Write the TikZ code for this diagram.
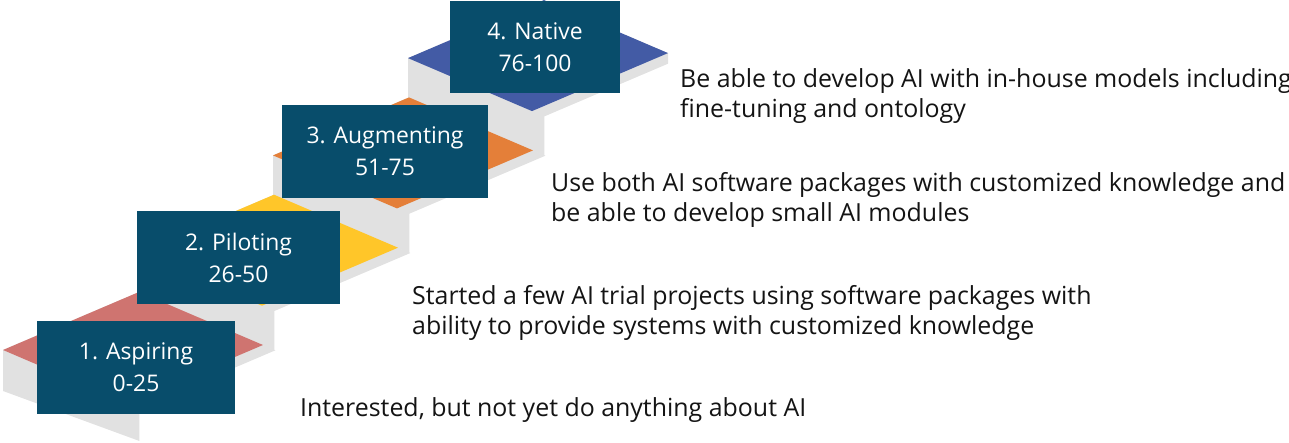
\documentclass[tikz,border=0pt]{standalone}
\usepackage{fontspec}
\setmainfont{Open Sans}
\definecolor{stairgray}{HTML}{E1E1E1}
\definecolor{tread1}{HTML}{CF7470}
\definecolor{tread2}{HTML}{FFC629}
\definecolor{tread3}{HTML}{E47F39}
\definecolor{tread4}{HTML}{435BA5}
\definecolor{cardblue}{HTML}{084D6B}
\definecolor{bodytext}{HTML}{141414}
\begin{document}
\begin{tikzpicture}[x=1bp,y=-1bp,
  stepcard/.style={fill=cardblue, text=white, inner sep=0pt, align=center,
    font=\fontsize{23}{32}\selectfont},
  blurb/.style={anchor=north west, inner sep=0pt, align=left, text=bodytext,
    font=\fontsize{25}{30}\selectfont},
  stairside/.style={fill=stairgray},
]
\useasboundingbox (0,0) rectangle (1289,443);

% top step: riser, side strip and tread
\fill[stairside] (408,58.1) -- ++(0,39.3) -- ++(136.4,58.3) -- ++(0,-39.3)
  -- ++(123.6,-52.7) -- ++(0,-10.6) -- ++(-124,-53) -- cycle;
\fill[tread4] (408,58.1) -- ++(124,53) -- ++(136,-58) -- ++(-124,-53) -- cycle;

% middle steps: the side strip runs on until it meets the riser above
\foreach \lx/\ly/\col in {273/155.4/tread3, 138/252.7/tread2}{
  \fill[stairside] (\lx,\ly) -- ++(0,39.3) -- ++(136.4,58.3) -- ++(0,-39.3)
    -- ++(136,-58) -- ++(-12.4,-5.3) -- ++(-124,-53) -- cycle;
  \fill[\col] (\lx,\ly) -- ++(124,53) -- ++(136,-58) -- ++(-124,-53) -- cycle;
}

% bottom step
\fill[stairside] (3,350) -- (3,391) -- (139.4,441) -- (139.4,408.3)
  -- ++(136,-58) -- ++(-12.4,-5.3) -- ++(-124,-53) -- cycle;
\fill[tread1] (3,350) -- ++(124,53) -- ++(136,-58) -- ++(-124,-53) -- cycle;

% level cards
\node[stepcard, minimum width=198bp, minimum height=93bp] (level1) at (136,367.5) {1. Aspiring\\0-25};
\node[stepcard, minimum width=203bp, minimum height=93bp] (level2) at (238.5,257.5) {2. Piloting\\26-50};
\node[stepcard, minimum width=206bp, minimum height=93bp] (level3) at (385,151.5) {3. Augmenting\\51-75};
\node[stepcard, minimum width=170bp, minimum height=92bp] (level4) at (535,47) {4. Native\\76-100};

% descriptions
\node[blurb] (desc4) at (680,68) {Be able to develop AI with in-house models including\\fine-tuning and ontology};
\node[blurb] (desc3) at (551,172.7) {Use both AI software packages with customized knowledge and\\be able to develop small AI modules};
\node[blurb] (desc2) at (412,285) {Started a few AI trial projects using software packages with\\ability to provide systems with customized knowledge};
\node[blurb] (desc1) at (300,397.7) {Interested, but not yet do anything about AI};
\end{tikzpicture}
\end{document}
